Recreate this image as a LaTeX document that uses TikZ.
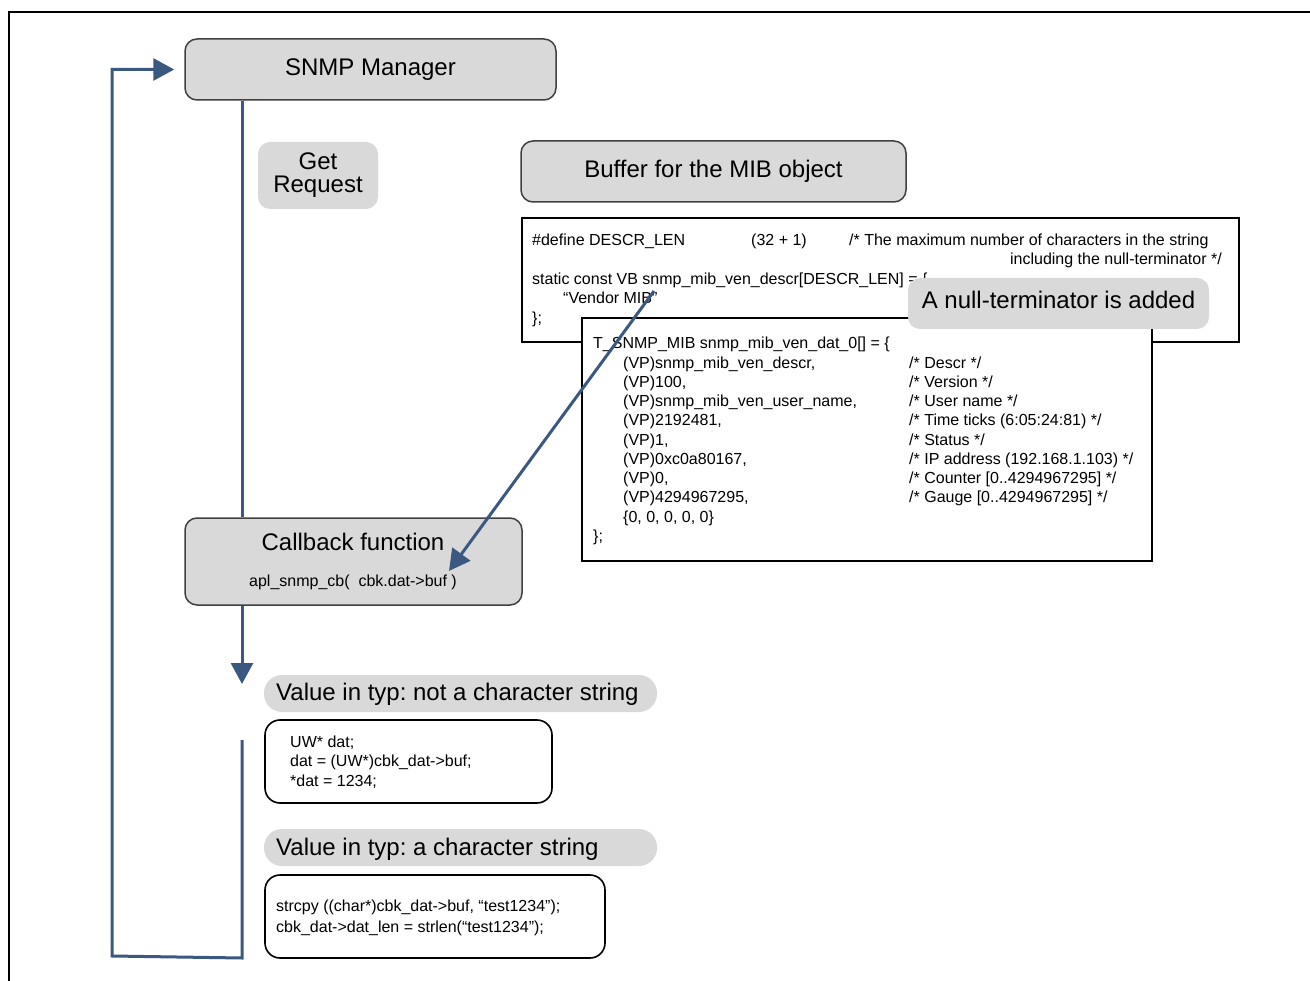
\documentclass[tikz,border=0pt]{standalone}
\usepackage{fontspec}
\setmainfont{Liberation Sans}
\usetikzlibrary{arrows.meta}
\definecolor{boxgray}{RGB}{217,217,217}
\definecolor{edgegray}{RGB}{64,64,64}
\definecolor{flowblue}{RGB}{59,89,128}
\frenchspacing
\begin{document}
\begin{tikzpicture}[x=1pt,y=-1pt,
  bigfont/.style={font=\fontsize{24}{23}\selectfont},
  rbox/.style={draw=edgegray, line width=1.5pt, fill=boxgray, rounded corners=12pt, inner sep=0pt, bigfont, text height=17.5pt, text depth=5pt},
  gbox/.style={fill=boxgray, rounded corners=12pt, inner sep=0pt, bigfont},
  pill/.style={fill=boxgray, rounded corners=18pt, inner sep=0pt},
  codebox/.style={draw=black, line width=2pt, fill=white, inner sep=0pt},
  rcode/.style={draw=black, line width=1.6pt, fill=white, rounded corners=15pt, inner sep=0pt},
  lbl/.style={bigfont, inner sep=0pt, anchor=base west},
  code/.style={font=\fontsize{16}{19}\selectfont, inner sep=0pt, anchor=base west},
  flow/.style={draw=flowblue, line width=3pt},
  tip/.style={-{Triangle[length=21pt,width=22pt]}}
]
\useasboundingbox (0,0) rectangle (1310,981);
% frame
\coordinate (frTR) at (1310,12);
\coordinate (frTL) at (9,12);
\coordinate (frBL) at (9,981);
\draw[line width=2pt] (frTR) -- (frTL) -- (frBL);

% SNMP manager and Get request
\node[rbox, minimum width=371pt, minimum height=61pt] (mgr) at (370.5,69.5) {SNMP Manager};
\node[gbox, align=center, minimum width=120pt, minimum height=67pt] (getreq) at (318,175.5) {Get\\Request};

% Buffer label
\node[rbox, minimum width=385pt, minimum height=61pt] (buf) at (713.5,171.5) {Buffer for the MIB object};

% code box 1
\node[codebox, minimum width=717pt, minimum height=124pt] (code1) at (880.5,280) {};
\node[code] (c1a) at (532,245.5) {\#define DESCR\_LEN};
\node[code] (c1b) at (751,245.5) {(32 + 1)};
\node[code] (c1c) at (849,245.5) {/* The maximum number of characters in the string};
\node[code, anchor=base east] (c1d) at (1222,265) {including the null-terminator */};
\node[code] (c1e) at (532,284.5) {static const VB snmp\_mib\_ven\_descr[DESCR\_LEN] = \{};
\node[code] (c1f) at (563,304) {“Vendor MIB”};
\node[code] (c1g) at (532,324) {\};};

% code box 2
\node[codebox, minimum width=570pt, minimum height=243pt] (code2) at (867,439.5) {};
\node[code] (r0) at (593,349) {T\_SNMP\_MIB snmp\_mib\_ven\_dat\_0[] = \{};
\node[code] (r1) at (623,368.25) {(VP)snmp\_mib\_ven\_descr,};
\node[code] (r2) at (623,387.5) {(VP)100,};
\node[code] (r3) at (623,406.75) {(VP)snmp\_mib\_ven\_user\_name,};
\node[code] (r4) at (623,426) {(VP)2192481,};
\node[code] (r5) at (623,445.25) {(VP)1,};
\node[code] (r6) at (623,464.5) {(VP)0xc0a80167,};
\node[code] (r7) at (623,483.75) {(VP)0,};
\node[code] (r8) at (623,503) {(VP)4294967295,};
\node[code] (r9) at (623,522.25) {\{0, 0, 0, 0, 0\}};
\node[code] (r10) at (593,541.5) {\};};
\node[code] (k1) at (909,368.25) {/* Descr */};
\node[code] (k2) at (909,387.5) {/* Version */};
\node[code] (k3) at (909,406.75) {/* User name */};
\node[code] (k4) at (909,426) {/* Time ticks (6:05:24:81) */};
\node[code] (k5) at (909,445.25) {/* Status */};
\node[code] (k6) at (909,464.5) {/* IP address (192.168.1.103) */};
\node[code] (k7) at (909,483.75) {/* Counter [0..4294967295] */};
\node[code] (k8) at (909,503) {/* Gauge [0..4294967295] */};

% null terminator note
\node[gbox, minimum width=301pt, minimum height=51pt, text height=17.5pt, text depth=8pt] (null) at (1058.5,303.5) {A null-terminator is added};

% callback
\node[rbox, minimum width=337pt, minimum height=87pt] (cb) at (353.5,561.5) {};
\node[bigfont, inner sep=0pt, anchor=base] (cbT) at (353,550) {Callback function};
\node[code, anchor=base] (cbF) at (353,586.5) {apl\_snmp\_cb(\ \ cbk.dat->buf )};

% value not string
\node[pill, minimum width=393pt, minimum height=37pt] (v1) at (460.5,693.5) {};
\node[lbl] (v1t) at (276,700) {Value in typ: not a character string};
\node[rcode, minimum width=287pt, minimum height=83pt] (c3) at (408.5,761.5) {};
\node[code] (c3a) at (290,747) {UW* dat;};
\node[code] (c3b) at (290,766.5) {dat = (UW*)cbk\_dat->buf;};
\node[code] (c3c) at (290,786) {*dat = 1234;};

% value string
\node[pill, minimum width=393pt, minimum height=37pt] (v2) at (460.5,847.5) {};
\node[lbl] (v2t) at (276,855) {Value in typ: a character string};
\node[rcode, minimum width=340pt, minimum height=83pt] (c4) at (435,916.5) {};
\node[code] (c4a) at (276,911.5) {strcpy ((char*)cbk\_dat->buf, “test1234”);};
\node[code] (c4b) at (276,932.5) {cbk\_dat->dat\_len = strlen(“test1234”);};

% flow connectors
\coordinate (spine) at (242,0);
\coordinate (downtip) at (242,684);
\coordinate (retTop) at (242,740);
\coordinate (retBot) at (242,958);
\coordinate (retCorner) at (112,956);
\draw[flow] (mgr.south -| spine) -- (cb.north -| spine);
\draw[flow, tip] (cb.south -| spine) -- (downtip);
\draw[flow, tip, shorten >=10pt] (retTop) -- (retBot) -- (retCorner) |- (mgr.west);

% pointer from the string to the buffer argument
\coordinate (mibref) at (654,291);
\coordinate (bufptr) at (449,571);
\draw[flow, tip] (mibref) -- (bufptr);
\end{tikzpicture}
\end{document}
